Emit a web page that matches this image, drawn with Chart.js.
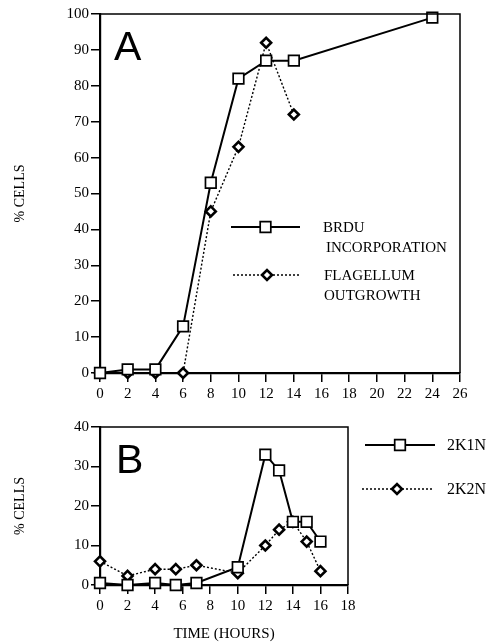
<!DOCTYPE html>
<html>
<head>
<meta charset="utf-8">
<script src="https://cdn.jsdelivr.net/npm/chart.js@4.4.0/dist/chart.umd.min.js"></script>
<style>
    body { margin: 0; background: #fff; }
    #wrap { position: relative; width: 495px; height: 643px; }
    #chartA { position: absolute; left: 0; top: 0; }
    #chartB { position: absolute; left: 0; top: 400px; }
</style>
</head>
<body>
<div id="wrap">
    <canvas id="chartA" width="495" height="400"></canvas>
    <canvas id="chartB" width="495" height="243"></canvas>
</div>
<script>
// panel A : BrdU incorporation and flagellum outgrowth
var hoursBrdu = [0, 2, 4, 6, 8, 10, 12, 14, 24];
var brduCells = [0, 1, 1, 13, 53, 82, 87, 87, 99];
var hoursFlag = [0, 2, 4, 6, 8, 10, 12, 14];
var flagCells = [0, 0, 0, 0, 45, 63, 92, 72];
var legendA = [['BRDU', 'INCORPORATION'], ['FLAGELLUM', 'OUTGROWTH']];

// panel B : 2K1N and 2K2N cells
var hoursB = [0, 2, 4, 5.5, 7, 10, 12, 13, 14, 15, 16];
var k1nCells = [0.5, 0, 0.5, 0, 0.5, 4.5, 33, 29, 16, 16, 11];
var k2nCells = [6, 2.3, 4, 4, 5, 3, 10, 14, 16, 11, 3.5];
var legendB = [['2K1N'], ['2K2N']];

var serif = '"Liberation Serif", "DejaVu Serif", serif';

function pts(xs, ys) {
    return xs.map(function (x, i) { return { x: x, y: ys[i] }; });
}

function squareSet(label, data) {
    return {
        label: label, data: data, clip: false,
        borderColor: '#000', borderWidth: 2,
        pointStyle: 'rect', pointRadius: 7.5, pointBorderWidth: 1.7,
        pointBackgroundColor: '#fff', pointBorderColor: '#000'
    };
}

function diamondSet(label, data) {
    return {
        label: label, data: data, clip: false,
        borderColor: '#000', borderWidth: 1.4, borderDash: [2, 2],
        pointStyle: 'rectRot', pointRadius: 5, pointBorderWidth: 2.6,
        pointBackgroundColor: '#fff', pointBorderColor: '#000'
    };
}

// box round the plot, panel letter and the hand placed legend
var panelPlugin = {
    id: 'panel',
    afterDraw: function (chart, args, opts) {
        var ctx = chart.ctx, a = chart.chartArea;
        ctx.save();
        ctx.strokeStyle = '#000';
        ctx.lineWidth = 1.5;
        ctx.beginPath();
        ctx.moveTo(a.left, a.top);
        ctx.lineTo(a.right, a.top);
        ctx.lineTo(a.right, a.bottom);
        ctx.stroke();

        ctx.fillStyle = '#000';
        ctx.font = '41px "Liberation Sans", Arial, sans-serif';
        ctx.textBaseline = 'alphabetic';
        ctx.textAlign = 'left';
        ctx.fillText(opts.letter, opts.letterX, opts.letterY);

        ctx.font = opts.fontSize + 'px ' + serif;
        ctx.textBaseline = 'middle';
        opts.items.forEach(function (it, i) {
            var ds = chart.data.datasets[i];
            ctx.save();
            ctx.lineWidth = ds.borderWidth;
            ctx.setLineDash(ds.borderDash || []);
            ctx.beginPath();
            ctx.moveTo(it.x0, it.y);
            ctx.lineTo(it.x1, it.y);
            ctx.stroke();
            ctx.restore();
            ctx.save();
            ctx.lineWidth = ds.pointBorderWidth;
            ctx.fillStyle = '#fff';
            Chart.helpers.drawPoint(ctx, {
                pointStyle: ds.pointStyle, radius: ds.pointRadius,
                borderWidth: ds.pointBorderWidth
            }, (it.x0 + it.x1) / 2, it.y);
            ctx.restore();
            opts.labels[i].forEach(function (line, j) {
                ctx.fillText(line, it.tx + (j ? it.indent : 0), it.y + 1 + j * 20);
            });
        });
        ctx.restore();
    }
};

function axes(xMax, yMax, yStep, yWidth, xHeight, xTitle) {
    return {
        x: {
            type: 'linear', min: 0, max: xMax,
            ticks: { stepSize: 2, color: '#000', padding: 3, font: { family: serif, size: 15 } },
            grid: { drawOnChartArea: false, tickLength: 9, color: '#000', lineWidth: 1.5 },
            border: { color: '#000', width: 2.2 },
            title: { display: !!xTitle, text: xTitle, color: '#000', padding: { top: 0, bottom: 0 },
                font: { family: serif, size: 15 } },
            afterFit: function (s) { s.height = xHeight; }
        },
        y: {
            min: 0, max: yMax,
            ticks: { stepSize: yStep, color: '#000', padding: 2, font: { family: serif, size: 15 } },
            grid: { drawOnChartArea: false, tickLength: 9, color: '#000', lineWidth: 1.5 },
            border: { color: '#000', width: 2.2 },
            title: { display: true, text: '% CELLS', color: '#000', padding: { top: 12, bottom: 0 },
                font: { family: serif, size: 14 } },
            afterFit: function (s) { s.width = yWidth; }
        }
    };
}

var common = {
    responsive: false,
    animation: false,
    plugins: { legend: { display: false }, tooltip: { enabled: false } }
};

new Chart(document.getElementById('chartA'), {
    type: 'line',
    data: {
        datasets: [
            squareSet('BRDU INCORPORATION', pts(hoursBrdu, brduCells)),
            diamondSet('FLAGELLUM OUTGROWTH', pts(hoursFlag, flagCells))
        ]
    },
    options: Object.assign({}, common, {
        layout: { padding: { top: 14, right: 35, left: 0, bottom: 0 } },
        scales: axes(26, 100, 10, 100, 27, ''),
        plugins: Object.assign({}, common.plugins, {
            panel: {
                letter: 'A', letterX: 114, letterY: 60, fontSize: 15,
                labels: legendA,
                items: [
                    { x0: 231, x1: 300, y: 227, tx: 323, indent: 3 },
                    { x0: 233, x1: 301, y: 275, tx: 324, indent: 0 }
                ]
            }
        })
    }),
    plugins: [panelPlugin]
});

new Chart(document.getElementById('chartB'), {
    type: 'line',
    data: {
        datasets: [
            squareSet('2K1N', pts(hoursB, k1nCells)),
            diamondSet('2K2N', pts(hoursB, k2nCells))
        ]
    },
    options: Object.assign({}, common, {
        layout: { padding: { top: 27, right: 147, left: 0, bottom: 0 } },
        scales: axes(18, 40, 10, 100, 58, 'TIME (HOURS)'),
        plugins: Object.assign({}, common.plugins, {
            panel: {
                letter: 'B', letterX: 116, letterY: 73, fontSize: 16,
                labels: legendB,
                items: [
                    { x0: 365, x1: 435, y: 45, tx: 447, indent: 0 },
                    { x0: 362, x1: 432, y: 89, tx: 447, indent: 0 }
                ]
            }
        })
    }),
    plugins: [panelPlugin]
});
</script>
</body>
</html>
